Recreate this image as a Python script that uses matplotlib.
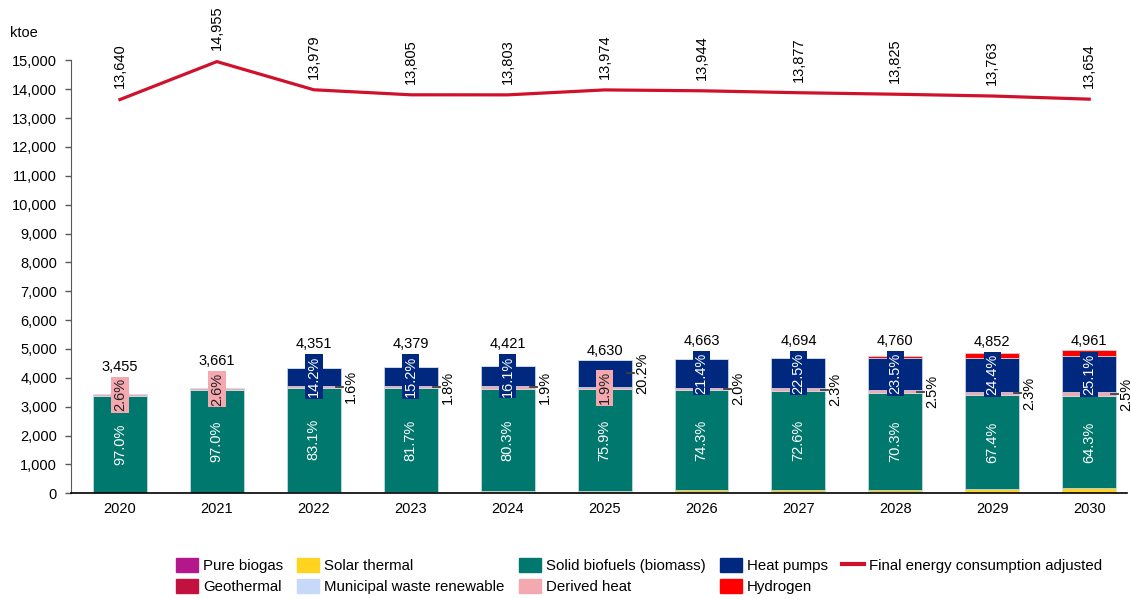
import matplotlib.pyplot as plt
from matplotlib.patches import Patch
from matplotlib.lines import Line2D
import numpy as np

plt.rcParams['font.family'] = ['Liberation Sans', 'DejaVu Sans']
plt.rcParams['font.size'] = 10.5

years = ['2020', '2021', '2022', '2023', '2024', '2025', '2026', '2027', '2028', '2029', '2030']
totals = [3455, 3661, 4351, 4379, 4421, 4630, 4663, 4694, 4760, 4852, 4961]
final_energy = [13640, 14955, 13979, 13805, 13803, 13974, 13944, 13877, 13825, 13763, 13654]

solar_thermal = [14, 15, 47, 56, 75, 93, 107, 122, 116, 136, 182]
pure_biogas = [0, 0, 0, 0, 0, 0, 0, 0, 0, 0, 0]
geothermal = [0, 0, 0, 0, 0, 0, 0, 0, 0, 0, 0]
municipal_waste = [0, 0, 0, 0, 0, 0, 0, 0, 0, 0, 0]
solid_biofuels = [3351, 3551, 3616, 3578, 3550, 3514, 3465, 3408, 3346, 3270, 3190]
derived_heat = [90, 95, 70, 79, 84, 88, 93, 108, 119, 112, 124]
heat_pumps = [0, 0, 618, 666, 712, 935, 998, 1056, 1119, 1184, 1245]
hydrogen = [0, 0, 0, 0, 0, 0, 0, 0, 60, 150, 220]

pct_biomass = ['97.0%', '97.0%', '83.1%', '81.7%', '80.3%', '75.9%', '74.3%', '72.6%', '70.3%', '67.4%', '64.3%']
pct_heat = ['', '', '14.2%', '15.2%', '16.1%', '20.2%', '21.4%', '22.5%', '23.5%', '24.4%', '25.1%']
pct_derived = ['2.6%', '2.6%', '1.6%', '1.8%', '1.9%', '1.9%', '2.0%', '2.3%', '2.5%', '2.3%', '2.5%']
# which label goes inside the bar (the other one is pushed outside with a leader)
derived_inside = [True, True, False, False, False, True, False, False, False, False, False]

C_BIOGAS = '#b4178c'
C_GEO = '#c2103f'
C_SOLAR = '#ffd320'
C_MSW = '#c6d9f8'
C_BIOMASS = '#00786e'
C_DERIVED = '#f4a8b0'
C_HP = '#00287f'
C_H2 = '#ff0000'
C_LINE = '#d0112b'

W, H = 1131, 599
fig = plt.figure(figsize=(W / 100, H / 100), dpi=100)
ax = fig.add_axes([71 / W, 105.7 / H, 1056 / W, 433 / H])

x = np.arange(len(years))
bw = 0.557
dpp = 15000 / 433  # data units per pixel

series = [
    (solar_thermal, C_SOLAR),
    (pure_biogas, C_BIOGAS),
    (geothermal, C_GEO),
    (municipal_waste, C_MSW),
    (solid_biofuels, C_BIOMASS),
    (derived_heat, C_DERIVED),
    (heat_pumps, C_HP),
    (hydrogen, C_H2),
]
bottom = np.zeros(len(years))
bottoms = []
for vals, col in series:
    v = np.array(vals, dtype=float)
    bottoms.append(bottom.copy())
    if v.sum() > 0:
        ax.bar(x, v, bw, bottom=bottom, color=col, edgecolor='#d3deea', linewidth=0.5, zorder=2)
    bottom = bottom + v

b_bio = bottoms[4]
b_der = bottoms[5]
b_hp = bottoms[6]

for i in range(len(years)):
    # biomass share
    yb = b_bio[i] + solid_biofuels[i] / 2
    ax.text(x[i], yb, pct_biomass[i], rotation=90, ha='center', va='center', color='white', zorder=5)

    yd = b_der[i] + derived_heat[i] / 2
    yh = b_hp[i] + heat_pumps[i] / 2
    box_top = totals[i]
    if derived_inside[i]:
        ax.text(x[i], yd, pct_derived[i], rotation=90, ha='center', va='center', color='#222222',
                bbox=dict(boxstyle='square,pad=0.12', fc=C_DERIVED, ec='none'), zorder=6)
        box_top = max(box_top, yd + 19 * dpp)
        if pct_heat[i]:
            ax.plot([x[i] + 0.228, x[i] + 0.3], [yh, yh], color='#404040', lw=1.3, zorder=6, clip_on=False)
            ax.text(x[i] + 0.385, yh, pct_heat[i], rotation=90, ha='center', va='center', color='black')
    else:
        ax.text(x[i], yh, pct_heat[i], rotation=90, ha='center', va='center', color='white',
                bbox=dict(boxstyle='square,pad=0.12', fc=C_HP, ec='none'), zorder=6)
        box_top = max(box_top, yh + 23.3 * dpp)
        ax.plot([x[i] + 0.228, x[i] + 0.3], [yd, yd], color='#404040', lw=1.3, zorder=6, clip_on=False)
        ax.text(x[i] + 0.38, yd, pct_derived[i], rotation=90, ha='center', va='center', color='black')

    ax.text(x[i], box_top + 9 * dpp, f'{totals[i]:,}', ha='center', va='center', color='black')

# final energy consumption line
ax.plot(x, final_energy, color=C_LINE, lw=2.3, zorder=4, clip_on=False)
for i, v in enumerate(final_energy):
    ax.annotate(f'{v:,}', (x[i], v), xytext=(0, 8), textcoords='offset points',
                rotation=90, ha='center', va='bottom', color='black', annotation_clip=False)

ax.set_xlim(-0.505, 10.39)
ax.set_ylim(0, 15000)
ax.set_xticks(x)
ax.set_xticklabels(years)
ax.set_yticks(np.arange(0, 15001, 1000))
ax.yaxis.set_major_formatter(plt.FuncFormatter(lambda v, p: f'{int(v):,}'))
ax.tick_params(axis='x', length=0, pad=6)
ax.tick_params(axis='y', length=4, width=1, color='#595959', pad=6)
for s in ['top', 'right']:
    ax.spines[s].set_visible(False)
ax.spines['left'].set_color('#595959')
ax.spines['bottom'].set_color('black')
ax.spines['bottom'].set_linewidth(1.2)

fig.text(10 / W, 1 - 33 / H, 'ktoe', ha='left', va='center')

handles = [
    Patch(color=C_BIOGAS), Patch(color=C_GEO),
    Patch(color=C_SOLAR), Patch(color=C_MSW),
    Patch(color=C_BIOMASS), Patch(color=C_DERIVED),
    Patch(color=C_HP), Patch(color=C_H2),
    Line2D([0], [0], color=C_LINE, lw=3),
]
labels = ['Pure biogas', 'Geothermal', 'Solar thermal', 'Municipal waste renewable',
          'Solid biofuels (biomass)', 'Derived heat', 'Heat pumps', 'Hydrogen',
          'Final energy consumption adjusted']
fig.legend(handles, labels, ncol=5, loc='center left', bbox_to_anchor=(176 / W, 1 - 576.3 / H),
           frameon=False, fontsize=10.8, handlelength=1.45, handleheight=1.0, handletextpad=0.35,
           columnspacing=0.95, labelspacing=0.4, borderpad=0, borderaxespad=0)

fig.savefig('out.png', dpi=100)
